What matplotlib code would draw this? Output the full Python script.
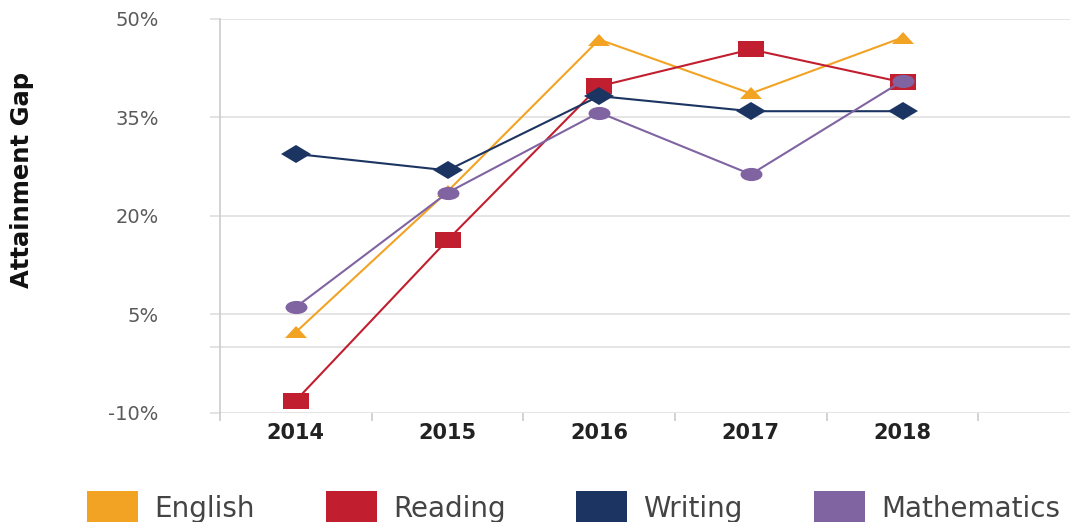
import matplotlib
matplotlib.use("Agg")
import matplotlib.pyplot as plt
from matplotlib.markers import MarkerStyle
from matplotlib.patches import Patch
from matplotlib.transforms import Affine2D

# data
years = ["2014", "2015", "2016", "2017", "2018"]
english = [2.3, 23.7, 46.8, 38.6, 47.1]
reading = [-8.1, 16.3, 39.7, 45.3, 40.3]
writing = [29.4, 26.9, 38.2, 35.9, 35.9]
mathematics = [6.1, 23.5, 35.7, 26.3, 40.5]

series_names = ["English", "Reading", "Writing", "Mathematics"]
colors = ["#F2A324", "#C11F2F", "#1C3461", "#8064A2"]

ytick_vals = [-10, 0, 5, 20, 35, 50]
ytick_labels = ["-10%", "", "5%", "20%", "35%", "50%"]

fig = plt.figure(figsize=(10.70, 5.22), dpi=100)
ax = fig.add_axes([220 / 1070, 1 - 413 / 522, 910 / 1070, 394.5 / 522])

x = list(range(len(years)))

# markers are squashed vertically like in the original
def squashed(m, sy):
    return MarkerStyle(m, transform=Affine2D().scale(1, sy))

styles = [
    (english, squashed("^", 0.55), 16.5),
    (reading, squashed("s", 0.63), 19.4),
    (writing, squashed("D", 0.6), 15.3),
    (mathematics, squashed("o", 0.6), 15.8),
]
for (vals, mk, ms), c in zip(styles, colors):
    ax.plot(x, vals, color=c, linewidth=1.5, marker=mk, markersize=ms,
            markeredgewidth=0, zorder=3, clip_on=False)

ax.set_xlim(-0.5, 5.5)
ax.set_ylim(-10, 50)

ax.set_yticks(ytick_vals)
ax.set_yticklabels(ytick_labels)
ax.set_xticks(x)
ax.set_xticklabels(years)
ax.set_xticks([i - 0.5 for i in range(6)], minor=True)

ax.tick_params(axis="y", length=7.2, width=1.2, color="#dedede", pad=37,
               labelsize=14, labelcolor="#5a5a5a")
ax.tick_params(axis="x", which="major", length=0, pad=7, labelsize=15)
ax.tick_params(axis="x", which="minor", length=5.5, width=1.2, color="#cccccc")
for lab in ax.get_xticklabels():
    lab.set_fontweight("bold")
    lab.set_color("#222222")

ax.grid(axis="y", color="#e0e0e0", linewidth=1.2)
ax.set_axisbelow(True)
for s in ["top", "right", "bottom"]:
    ax.spines[s].set_visible(False)
ax.spines["left"].set_color("#cccccc")
ax.spines["left"].set_linewidth(1.2)

fig.text(22 / 1070, 1 - 180 / 522, "Attainment Gap", rotation=90,
         ha="center", va="center", fontsize=17.5, fontweight="bold",
         color="#111111")

handles = [Patch(facecolor=c, edgecolor="none") for c in colors]
fig.legend(handles, series_names, loc="upper left",
           bbox_to_anchor=(87 / 1070, 1 - 491 / 522), ncol=4, frameon=False,
           borderpad=0, borderaxespad=0, fontsize=20, handlelength=1.84,
           handleheight=1.5, handletextpad=0.58, columnspacing=2.55,
           labelcolor="#444444")

fig.savefig("out.png", dpi=100)
